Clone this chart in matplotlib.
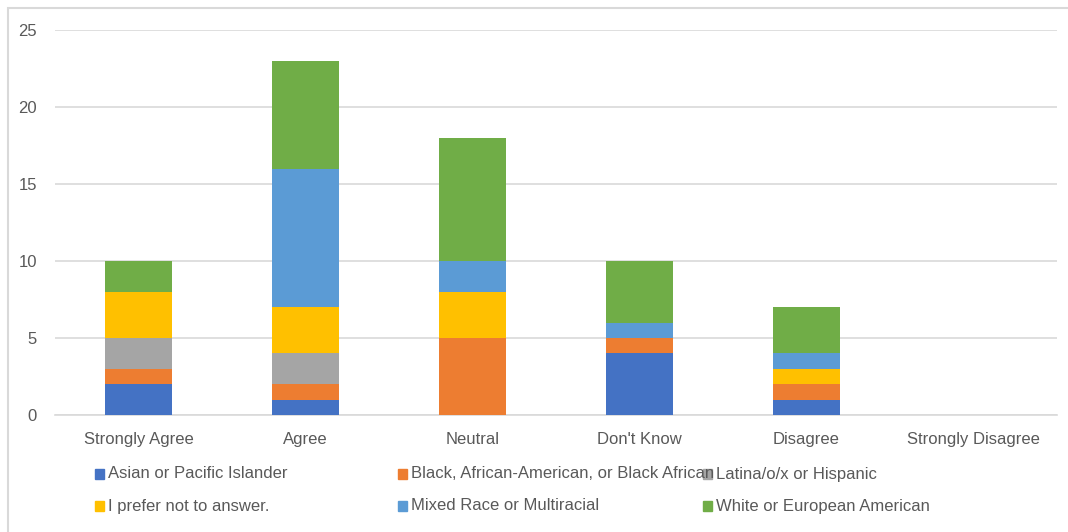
import numpy as np
import matplotlib
matplotlib.use("Agg")
import matplotlib.pyplot as plt
from matplotlib.patches import Rectangle

plt.rcParams["font.family"] = ["Liberation Sans", "DejaVu Sans"]

categories = ["Strongly Agree", "Agree", "Neutral", "Don't Know", "Disagree", "Strongly Disagree"]
series_names = [
    "Asian or Pacific Islander",
    "Black, African-American, or Black African",
    "Latina/o/x or Hispanic",
    "I prefer not to answer.",
    "Mixed Race or Multiracial",
    "White or European American",
]
asian = [2, 1, 0, 4, 1, 0]
black = [1, 1, 5, 1, 1, 0]
latina = [2, 2, 0, 0, 0, 0]
no_answer = [3, 3, 3, 0, 1, 0]
mixed = [0, 9, 2, 1, 1, 0]
white = [2, 7, 8, 4, 3, 0]
yticks = [0, 5, 10, 15, 20, 25]

colors = ["#4472C4", "#ED7D31", "#A5A5A5", "#FFC000", "#5B9BD5", "#70AD47"]
text_col = "#595959"
grid_col = "#D9D9D9"

fig = plt.figure(figsize=(10.68, 5.32), dpi=100)
ax = fig.add_axes([55 / 1068, 1 - 415 / 532, 1002 / 1068, 385 / 532])

x = np.arange(len(categories))
bottom = np.zeros(len(categories))
for vals, col, name in zip([asian, black, latina, no_answer, mixed, white], colors, series_names):
    ax.bar(x, vals, width=0.4, bottom=bottom, color=col, label=name, zorder=3)
    bottom += np.array(vals)

ax.set_xlim(-0.5, len(categories) - 0.5)
ax.set_ylim(0, 25)
ax.set_yticks(yticks)
ax.yaxis.grid(True, color=grid_col, linewidth=1.2, zorder=0)
for s in ["top", "right", "left"]:
    ax.spines[s].set_visible(False)
ax.spines["bottom"].set_color(grid_col)
ax.spines["bottom"].set_linewidth(1.2)
ax.tick_params(axis="both", length=0, labelsize=12, labelcolor=text_col)
ax.tick_params(axis="y", pad=13)
ax.tick_params(axis="x", pad=12)
ax.set_xticks(x)
ax.set_xticklabels(categories)

# legend laid out in fixed columns, as in the source chart
col_x = [95, 398, 703]
row_y = [474, 506]
for i, (name, col) in enumerate(zip(series_names, colors)):
    px = col_x[i % 3]
    py = row_y[i // 3]
    fig.patches.append(Rectangle((px / 1068, 1 - (py + 5) / 532), 9 / 1068, 10 / 532,
                                 transform=fig.transFigure, color=col, figure=fig))
    fig.text((px + 13) / 1068, 1 - py / 532, name, fontsize=12, color=text_col,
             ha="left", va="center")

# outer chart frame
fig.patches.append(Rectangle((8 / 1068, -0.05), 1.1, 1 - 8 / 532 + 0.05,
                             transform=fig.transFigure, fill=False,
                             edgecolor="#D9D9D9", linewidth=1.5, figure=fig))

fig.savefig("out.png", dpi=100)
